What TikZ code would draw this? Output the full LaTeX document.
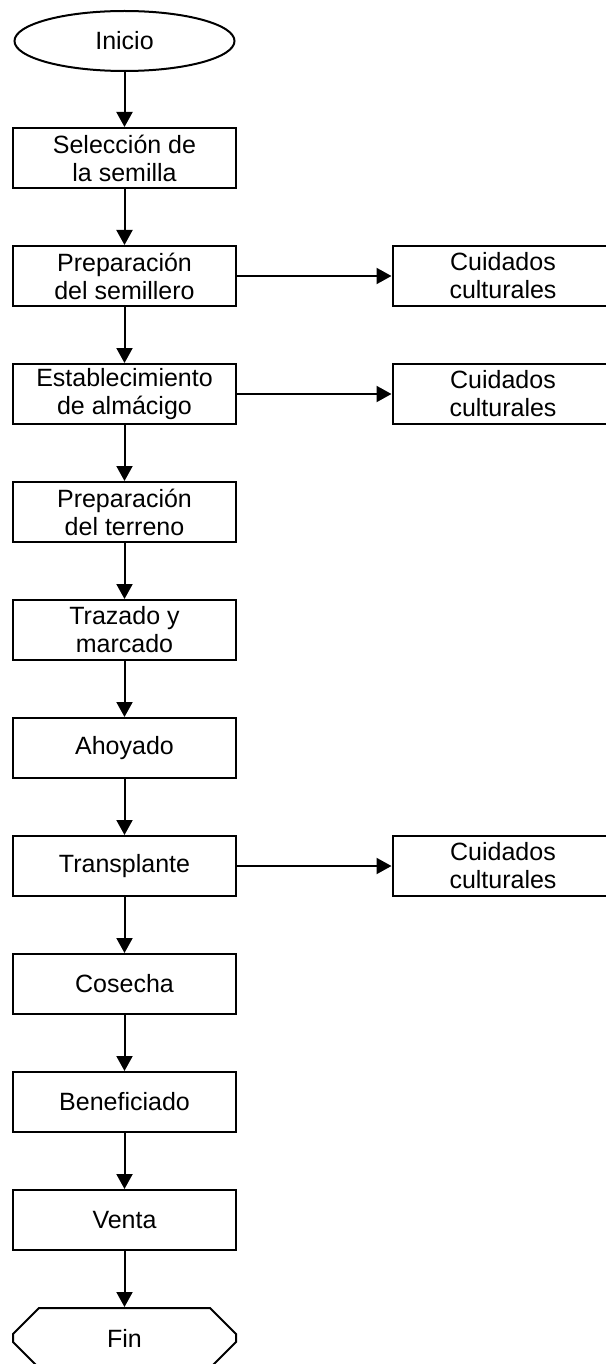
\documentclass[tikz,border=0pt]{standalone}
\usepackage{fontspec}
\setmainfont{Liberation Sans}
\usetikzlibrary{shapes.geometric,shapes.misc,arrows.meta}
\tikzset{
  base/.style={draw=black, line width=2pt, inner sep=0pt, align=center,
    font=\fontsize{25}{28}\selectfont},
  stepbox/.style={base, rectangle, minimum width=223pt, minimum height=60pt},
  sidebox/.style={base, rectangle, minimum width=221pt, minimum height=60pt},
  startnode/.style={base, ellipse, minimum width=220pt, minimum height=60pt},
  endnode/.style={base, chamfered rectangle, chamfered rectangle xsep=18pt,
    chamfered rectangle ysep=17pt, minimum width=223pt, minimum height=60pt},
  arr/.style={line width=2pt, -{Triangle[width=16pt,length=15pt]}}
}
\begin{document}
\begin{tikzpicture}[x=1pt,y=-1pt]
\useasboundingbox[fill=white] (0,0) rectangle (605,1364);
\node[startnode] (ini) at (124.5,41) {Inicio};
\node[stepbox] (s0) at (124.5,158) {Selección de\\la semilla};
\node[stepbox] (s1) at (124.5,276) {Preparación\\del semillero};
\node[stepbox] (s2) at (124.5,394) {Establecimiento\\de almácigo};
\node[stepbox] (s3) at (124.5,512) {Preparación\\del terreno};
\node[stepbox] (s4) at (124.5,630) {Trazado y\\marcado};
\node[stepbox] (s5) at (124.5,748) {Ahoyado};
\node[stepbox] (s6) at (124.5,866) {Transplante};
\node[stepbox] (s7) at (124.5,984) {Cosecha};
\node[stepbox] (s8) at (124.5,1102) {Beneficiado};
\node[stepbox] (s9) at (124.5,1220) {Venta};
\node[endnode] (fin) at (124.5,1338) {Fin};
\node[sidebox] (c1) at (503,276) {Cuidados\\culturales};
\node[sidebox] (c2) at (503,394) {Cuidados\\culturales};
\node[sidebox] (c6) at (503,866) {Cuidados\\culturales};
\draw[arr] (ini) -- (s0);
\draw[arr] (s0) -- (s1);
\draw[arr] (s1) -- (s2);
\draw[arr] (s2) -- (s3);
\draw[arr] (s3) -- (s4);
\draw[arr] (s4) -- (s5);
\draw[arr] (s5) -- (s6);
\draw[arr] (s6) -- (s7);
\draw[arr] (s7) -- (s8);
\draw[arr] (s8) -- (s9);
\draw[arr] (s9) -- (fin);
\draw[arr] (s1) -- (c1);
\draw[arr] (s2) -- (c2);
\draw[arr] (s6) -- (c6);
\end{tikzpicture}
\end{document}
